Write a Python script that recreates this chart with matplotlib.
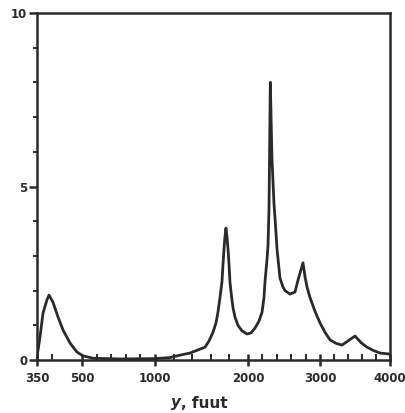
import numpy as np
import matplotlib
matplotlib.use("Agg")
import matplotlib.pyplot as plt
from matplotlib.ticker import FixedLocator, NullFormatter

# curve (feet, response)
depth = [350, 360, 370, 383, 390, 403, 420, 437, 460, 483, 507, 575, 760, 1000,
         1161, 1269, 1376, 1462, 1538, 1581, 1624, 1656, 1677, 1699, 1720, 1731,
         1742, 1752, 1763, 1774, 1785, 1796, 1806, 1822, 1839, 1860, 1892, 1935,
         1989, 2042, 2097, 2153, 2195, 2222, 2236, 2264, 2278, 2292, 2310, 2333,
         2361, 2375, 2403, 2444, 2486, 2514, 2583, 2653, 2694, 2722, 2764, 2792,
         2820, 2861, 2931, 3000, 3071, 3143, 3229, 3314, 3400, 3500, 3586, 3671,
         3757, 3857, 4000]
value = [0.09, 0.66, 1.35, 1.73, 1.87, 1.67, 1.24, 0.86, 0.49, 0.23, 0.12, 0.05, 0.03, 0.04,
         0.07, 0.14, 0.2, 0.29, 0.37, 0.55, 0.8, 1.07, 1.38, 1.8, 2.25, 2.75,
         3.2, 3.55, 3.8, 3.55, 3.2, 2.75, 2.25, 1.85, 1.5, 1.24, 1.0, 0.84,
         0.75, 0.78, 0.92, 1.12, 1.38, 1.8, 2.25, 2.9, 3.3, 4.4, 8.0, 5.8,
         4.5, 4.1, 3.2, 2.36, 2.1, 2.0, 1.9, 1.96, 2.3, 2.5, 2.8, 2.4,
         2.1, 1.8, 1.4, 1.07, 0.8, 0.58, 0.48, 0.43, 0.55, 0.69, 0.5, 0.37,
         0.28, 0.2, 0.17]

x_major = [350, 500, 1000, 2000, 3000, 4000]
x_minor = [400, 600, 700, 800, 900, 1200, 1400, 1600, 1800,
           2200, 2400, 2600, 2800, 3200, 3400, 3600, 3800]
y_major = [0, 5, 10]
y_minor = [1, 2, 3, 4, 6, 7, 8, 9]

# the original axis is hand drawn and irregular: piecewise linear between labels
axis_pos = [0, 45, 118, 211, 283, 353]


def fwd(v):
    return np.interp(v, x_major, axis_pos)


def inv(p):
    return np.interp(p, axis_pos, x_major)


ink = "#2a2a2a"
fig = plt.figure(figsize=(4.05, 4.13), dpi=100)
ax = fig.add_axes([37 / 405, 53 / 413, 353 / 405, 347 / 413])
ax.set_xscale("function", functions=(fwd, inv))

ax.plot(depth, value, color=ink, lw=2.0, solid_joinstyle="round")

ax.set_xlim(350, 4000)
ax.set_ylim(0, 10)

ax.xaxis.set_major_locator(FixedLocator(x_major))
ax.xaxis.set_minor_locator(FixedLocator(x_minor))
ax.xaxis.set_minor_formatter(NullFormatter())
ax.set_xticklabels([str(v) for v in x_major])
ax.yaxis.set_major_locator(FixedLocator(y_major))
ax.yaxis.set_minor_locator(FixedLocator(y_minor))
ax.set_yticklabels([str(v) for v in y_major])

for s in ax.spines.values():
    s.set_linewidth(1.8)
    s.set_color(ink)

ax.tick_params(axis="x", which="major", direction="inout", length=9, width=1.8,
               colors=ink, labelsize=8.5, pad=4)
ax.tick_params(axis="x", which="minor", direction="in", length=4, width=1.4, colors=ink)
ax.tick_params(axis="y", which="major", direction="out", length=6, width=1.8,
               colors=ink, labelsize=8.5, pad=1)
ax.tick_params(axis="y", which="minor", direction="out", length=3, width=1.4, colors=ink)
for lab in ax.get_xticklabels() + ax.get_yticklabels():
    lab.set_fontweight("bold")

fig.text(181 / 405, 1 - 403 / 413, "y", fontsize=11, fontweight="bold",
         fontstyle="italic", ha="right", va="center", color=ink)
fig.text(181 / 405, 1 - 403 / 413, ", fuut", fontsize=11, fontweight="bold",
         ha="left", va="center", color=ink)

fig.savefig("out.png", dpi=100)
